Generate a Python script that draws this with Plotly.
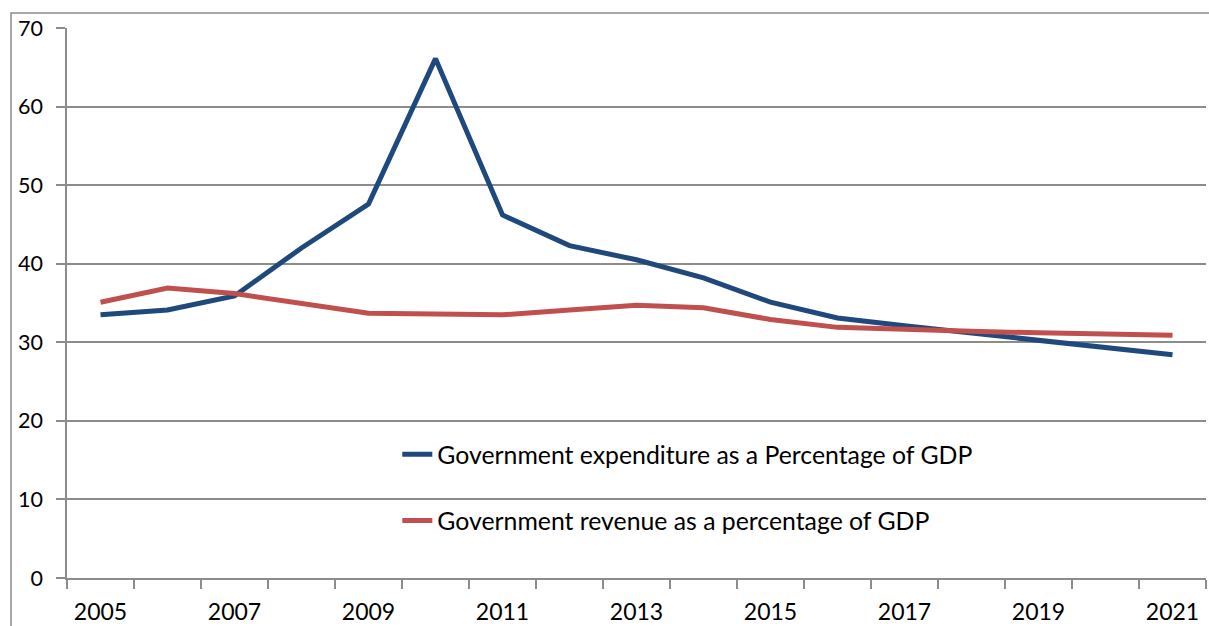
import plotly.graph_objects as go

years = [str(y) for y in range(2005, 2022)]
expenditure = [33.5, 34.1, 35.9, 42.0, 47.6, 66.1, 46.2, 42.3, 40.5, 38.2, 35.1, 33.1, 32.1, 31.2, 30.2, 29.3, 28.4]
revenue = [35.1, 36.9, 36.2, 35.0, 33.7, 33.6, 33.5, 34.1, 34.7, 34.4, 32.9, 31.9, 31.6, 31.4, 31.2, 31.1, 30.9]
tick_labels = [y if (int(y) - 2005) % 2 == 0 else "" for y in years]
y_ticks = [0, 10, 20, 30, 40, 50, 60, 70]

FONT = "Lato"
GRID = "#8c8c8c"

fig = go.Figure()
fig.add_trace(go.Scatter(
    x=years, y=expenditure, mode="lines",
    name="Government expenditure as a Percentage of GDP",
    line=dict(color="#1F497D", width=5), legendgroup="a"))
fig.add_trace(go.Scatter(
    x=years, y=revenue, mode="lines",
    name="Government revenue as a percentage of GDP",
    line=dict(color="#C0504D", width=5), legendgroup="b"))

fig.update_layout(
    width=1209, height=626,
    margin=dict(l=67, r=3, t=28, b=48),
    paper_bgcolor="white", plot_bgcolor="white",
    font=dict(family=FONT, size=20, color="#000000"),
    showlegend=True,
    legend=dict(x=0.29, y=0.266, xanchor="left", yanchor="top",
                bgcolor="rgba(0,0,0,0)", traceorder="grouped",
                tracegroupgap=31, font=dict(size=24.8, family=FONT),
                itemwidth=30),
    xaxis=dict(type="category", tickmode="array", tickvals=years, ticktext=tick_labels,
               tickson="boundaries", ticks="outside", ticklen=9, tickwidth=1.5, tickcolor=GRID,
               showline=True, linecolor=GRID, linewidth=1.5, showgrid=False, automargin=False,
               tickfont=dict(size=23), range=[-0.5, 16.5], ticklabelstandoff=13),
    yaxis=dict(range=[0, 70], tickvals=y_ticks, ticks="outside", ticklen=9, tickwidth=1.5,
               tickcolor=GRID, showline=True, linecolor=GRID, linewidth=1.5, automargin=False,
               showgrid=True, gridcolor=GRID, gridwidth=1.5, zeroline=False,
               tickfont=dict(size=21.5), ticklabelstandoff=9),
    shapes=[dict(type="rect", xref="paper", yref="paper",
                 x0=(11 - 67) / 1139, x1=1.05, y0=-0.3, y1=(578 - 13) / 550,
                 line=dict(color=GRID, width=1.5), fillcolor="rgba(0,0,0,0)", layer="below")],
)

fig.write_html("out.html")
